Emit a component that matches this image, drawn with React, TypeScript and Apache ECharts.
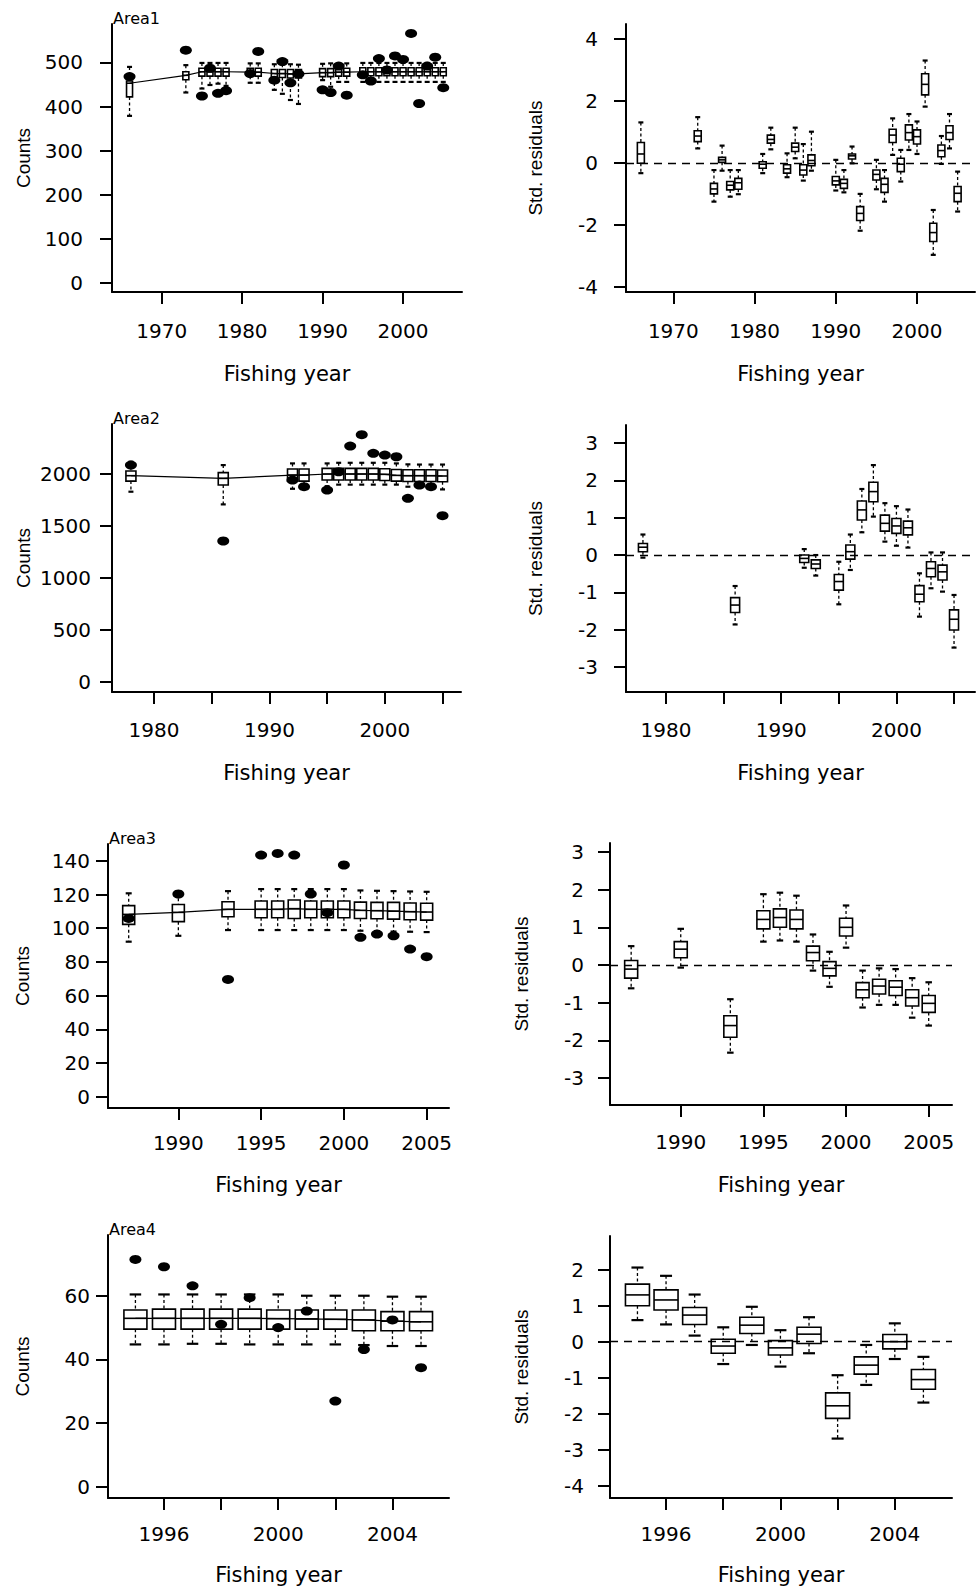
import React, { useEffect, useRef } from "react";
import * as echarts from "echarts";

type Box = [number, number, number, number, number]; // [lowWhisker, Q1, median, Q3, highWhisker]

// ---------------- DATA ----------------
const area1Years = [1966, 1973, 1975, 1976, 1977, 1978, 1981, 1982, 1984, 1985, 1986, 1987, 1990, 1991, 1992, 1993, 1995, 1996, 1997, 1998, 1999, 2000, 2001, 2002, 2003, 2004, 2005];
const area1Observed = [468, 528, 424, 487, 430, 436, 475, 525, 460, 502, 454, 474, 438, 432, 492, 426, 472, 458, 509, 483, 515, 507, 566, 407, 492, 512, 443];
const area1Predicted: Box[] = [
  [379, 422, 453, 458, 490], [432, 461, 471, 479, 494], [441, 469, 479, 487, 499], [449, 469, 479, 487, 499],
  [452, 469, 479, 487, 499], [447, 469, 479, 487, 499], [454, 469, 478, 487, 498], [454, 469, 478, 487, 498],
  [438, 466, 475, 484, 496], [429, 466, 475, 484, 496], [415, 465, 474, 484, 496], [406, 465, 474, 484, 495],
  [460, 468, 477, 486, 497], [445, 468, 477, 486, 498], [456, 469, 478, 487, 498], [456, 469, 478, 487, 498],
  [456, 470, 479, 488, 499], [456, 470, 479, 488, 499], [456, 470, 479, 488, 499], [456, 470, 479, 488, 499],
  [456, 470, 479, 488, 499], [456, 470, 479, 488, 499], [456, 470, 479, 488, 499], [456, 470, 479, 488, 499],
  [456, 470, 479, 488, 499], [456, 470, 479, 488, 499], [456, 470, 479, 488, 499],
];
const area1Residuals: Box[] = [
  [-0.33, -0.01, 0.29, 0.66, 1.31], [0.47, 0.69, 0.87, 1.04, 1.48], [-1.25, -1.0, -0.84, -0.66, -0.23],
  [-0.25, 0.02, 0.1, 0.18, 0.56], [-1.09, -0.87, -0.72, -0.6, -0.23], [-1.01, -0.85, -0.64, -0.5, -0.23],
  [-0.33, -0.17, -0.04, 0.04, 0.29], [0.44, 0.64, 0.76, 0.9, 1.14], [-0.46, -0.33, -0.19, -0.06, 0.31],
  [0.15, 0.37, 0.51, 0.64, 1.14], [-0.57, -0.39, -0.23, -0.06, 0.61], [-0.25, -0.09, 0.08, 0.26, 1.01],
  [-0.89, -0.71, -0.58, -0.44, 0.1], [-0.95, -0.82, -0.66, -0.53, -0.23], [-0.01, 0.13, 0.23, 0.29, 0.53],
  [-2.19, -1.86, -1.63, -1.41, -1.0], [-0.85, -0.55, -0.37, -0.23, 0.1], [-1.25, -0.95, -0.69, -0.5, -0.23],
  [0.26, 0.66, 0.9, 1.09, 1.44], [-0.6, -0.28, -0.04, 0.15, 0.42], [0.42, 0.74, 0.98, 1.23, 1.58],
  [0.29, 0.61, 0.85, 1.07, 1.34], [1.82, 2.2, 2.54, 2.88, 3.31], [-2.97, -2.54, -2.25, -1.95, -1.52],
  [-0.03, 0.2, 0.4, 0.58, 0.87], [0.47, 0.76, 0.98, 1.2, 1.58], [-1.57, -1.25, -0.98, -0.76, -0.28],
];

const area2Years = [1978, 1986, 1992, 1993, 1995, 1996, 1997, 1998, 1999, 2000, 2001, 2002, 2003, 2004, 2005];
const area2Observed = [2083, 1353, 1939, 1875, 1843, 2019, 2266, 2375, 2196, 2179, 2163, 1763, 1891, 1875, 1596];
const area2Predicted: Box[] = [
  [1827, 1929, 1981, 2026, 2115], [1705, 1891, 1955, 2010, 2083], [1855, 1929, 1987, 2045, 2099],
  [1862, 1929, 1987, 2045, 2099], [1880, 1939, 1997, 2051, 2099], [1895, 1939, 1997, 2051, 2105],
  [1895, 1939, 1997, 2051, 2105], [1895, 1939, 1997, 2051, 2105], [1895, 1939, 1997, 2051, 2105],
  [1895, 1935, 1994, 2048, 2105], [1895, 1929, 1984, 2040, 2099], [1875, 1925, 1981, 2038, 2090],
  [1880, 1925, 1981, 2038, 2088], [1875, 1925, 1981, 2038, 2088], [1849, 1922, 1978, 2035, 2088],
];
const area2Residuals: Box[] = [
  [-0.07, 0.09, 0.21, 0.31, 0.55], [-1.86, -1.54, -1.34, -1.14, -0.83], [-0.34, -0.2, -0.09, 0.0, 0.16],
  [-0.55, -0.36, -0.24, -0.13, 0.0], [-1.32, -0.94, -0.71, -0.52, -0.18], [-0.4, -0.11, 0.09, 0.27, 0.55],
  [0.61, 0.94, 1.21, 1.45, 1.77], [1.03, 1.43, 1.7, 1.95, 2.41], [0.36, 0.64, 0.85, 1.07, 1.39],
  [0.25, 0.58, 0.78, 0.98, 1.31], [0.2, 0.54, 0.73, 0.91, 1.22], [-1.65, -1.25, -1.05, -0.82, -0.49],
  [-0.89, -0.58, -0.36, -0.18, 0.07], [-0.98, -0.67, -0.45, -0.27, 0.07], [-2.48, -2.01, -1.72, -1.47, -1.07],
];

const area3Years = [1987, 1990, 1993, 1995, 1996, 1997, 1998, 1999, 2000, 2001, 2002, 2003, 2004, 2005];
const area3Observed = [105.8, 120.3, 69.6, 143.4, 144.4, 143.4, 120.3, 109.2, 137.5, 94.6, 96.5, 95.5, 87.6, 83.1];
const area3Predicted: Box[] = [
  [92.0, 102.3, 108.2, 113.4, 120.7], [95.5, 103.9, 109.4, 114.1, 121.0], [98.9, 106.8, 111.2, 115.7, 122.0],
  [98.9, 106.2, 111.2, 116.1, 123.2], [98.9, 106.2, 111.2, 116.1, 123.2], [98.9, 105.8, 111.6, 116.7, 123.2],
  [98.9, 106.2, 111.2, 116.1, 123.2], [98.9, 106.2, 111.2, 116.1, 123.2], [98.9, 106.2, 111.2, 116.1, 123.2],
  [98.5, 105.8, 110.6, 115.5, 122.4], [98.3, 105.6, 110.4, 115.3, 122.2], [98.0, 105.4, 110.1, 115.3, 122.0],
  [97.9, 105.0, 109.8, 115.0, 121.8], [97.7, 104.8, 109.6, 114.8, 121.6],
];
const area3Residuals: Box[] = [
  [-0.62, -0.35, -0.11, 0.12, 0.5], [-0.07, 0.19, 0.42, 0.62, 0.96], [-2.33, -1.92, -1.61, -1.35, -0.91],
  [0.62, 0.96, 1.21, 1.44, 1.88], [0.65, 1.0, 1.26, 1.49, 1.92], [0.62, 0.96, 1.21, 1.46, 1.84],
  [-0.15, 0.11, 0.33, 0.5, 0.81], [-0.58, -0.29, -0.09, 0.09, 0.35], [0.46, 0.77, 1.0, 1.24, 1.58],
  [-1.13, -0.87, -0.66, -0.47, -0.15], [-1.06, -0.77, -0.56, -0.38, -0.09], [-1.06, -0.81, -0.59, -0.42, -0.11],
  [-1.4, -1.09, -0.87, -0.66, -0.35], [-1.61, -1.26, -1.02, -0.81, -0.46],
];

const area4Years = [1995, 1996, 1997, 1998, 1999, 2000, 2001, 2002, 2003, 2004, 2005];
const area4Observed = [71.4, 69.1, 63.1, 51.0, 59.4, 50.0, 55.2, 26.9, 43.1, 52.4, 37.4];
const area4Predicted: Box[] = [
  [44.7, 49.5, 52.9, 55.5, 60.4], [44.7, 49.5, 52.9, 55.8, 60.4], [44.9, 49.5, 52.9, 55.8, 60.4],
  [44.9, 49.5, 52.9, 55.8, 60.4], [44.7, 49.5, 52.9, 55.8, 60.4], [44.7, 49.5, 52.8, 55.5, 60.4],
  [44.7, 49.5, 52.7, 55.5, 60.0], [44.7, 49.5, 52.6, 55.5, 60.0], [44.5, 49.0, 52.4, 55.5, 60.0],
  [44.2, 49.0, 52.0, 55.0, 59.7], [44.2, 49.0, 51.8, 55.0, 59.7],
];
const area4Residuals: Box[] = [
  [0.6, 1.0, 1.3, 1.6, 2.06], [0.48, 0.88, 1.16, 1.44, 1.83], [0.17, 0.48, 0.74, 0.95, 1.31],
  [-0.62, -0.32, -0.12, 0.07, 0.4], [-0.09, 0.23, 0.46, 0.68, 0.97], [-0.69, -0.37, -0.17, 0.03, 0.32],
  [-0.32, -0.05, 0.21, 0.4, 0.68], [-2.69, -2.13, -1.78, -1.42, -0.93], [-1.2, -0.9, -0.65, -0.42, -0.09],
  [-0.48, -0.2, 0.0, 0.2, 0.51], [-1.69, -1.32, -1.05, -0.77, -0.42],
];

// tick values
const area1YearTicks = [1970, 1980, 1990, 2000];
const area1YearLabels = [1970, 1980, 1990, 2000];
const area2YearTicks = [1980, 1985, 1990, 1995, 2000, 2005];
const area2YearLabels = [1980, 1990, 2000];
const area3YearTicks = [1990, 1995, 2000, 2005];
const area3YearLabels = [1990, 1995, 2000, 2005];
const area4YearTicks = [1996, 1998, 2000, 2002, 2004];
const area4YearLabels = [1996, 2000, 2004];
const area1CountTicks = [0, 100, 200, 300, 400, 500];
const area2CountTicks = [0, 500, 1000, 1500, 2000];
const area3CountTicks = [0, 20, 40, 60, 80, 100, 120, 140];
const area4CountTicks = [0, 20, 40, 60];
const area1ResTicks = [-4, -2, 0, 2, 4];
const area2ResTicks = [-3, -2, -1, 0, 1, 2, 3];
const area3ResTicks = [-3, -2, -1, 0, 1, 2, 3];
const area4ResTicks = [-4, -3, -2, -1, 0, 1, 2];

const areaNames = ["Area1", "Area2", "Area3", "Area4"];

// ---------------- LAYOUT ----------------
interface Panel {
  kind: "fit" | "res";
  area: number;
  left: number; top: number; width: number; height: number;
  xMin: number; xMax: number; yMin: number; yMax: number;
  xTicks: number[]; xLabels: number[]; yTicks: number[];
  yLabelMargin: number; xLabelMargin: number; xNameGap: number; yNameGap: number;
  boxW: number;
}

const panels: Panel[] = [
  { kind: "fit", area: 0, left: 112, top: 24, width: 350, height: 268, xMin: 1963.82, xMax: 2007.33, yMin: -20.4, yMax: 587.3, xTicks: area1YearTicks, xLabels: area1YearLabels, yTicks: area1CountTicks, yLabelMargin: 29, xLabelMargin: 29, xNameGap: 71, yNameGap: 79, boxW: 6 },
  { kind: "res", area: 0, left: 626, top: 24, width: 349, height: 268, xMin: 1964.17, xMax: 2007.14, yMin: -4.17, yMax: 4.49, xTicks: area1YearTicks, xLabels: area1YearLabels, yTicks: area1ResTicks, yLabelMargin: 28, xLabelMargin: 29, xNameGap: 71, yNameGap: 81, boxW: 7 },
  { kind: "fit", area: 1, left: 112, top: 424, width: 349, height: 268, xMin: 1976.36, xMax: 2006.6, yMin: -99, yMax: 2478, xTicks: area2YearTicks, xLabels: area2YearLabels, yTicks: area2CountTicks, yLabelMargin: 21, xLabelMargin: 28, xNameGap: 70, yNameGap: 79, boxW: 10 },
  { kind: "res", area: 1, left: 626, top: 425, width: 349, height: 267, xMin: 1976.53, xMax: 2006.82, yMin: -3.67, yMax: 3.485, xTicks: area2YearTicks, xLabels: area2YearLabels, yTicks: area2ResTicks, yLabelMargin: 28, xLabelMargin: 28, xNameGap: 70, yNameGap: 81, boxW: 9 },
  { kind: "fit", area: 2, left: 108, top: 844, width: 341, height: 264, xMin: 1985.75, xMax: 2006.35, yMin: -6.7, yMax: 149.97, xTicks: area3YearTicks, xLabels: area3YearLabels, yTicks: area3CountTicks, yLabelMargin: 18, xLabelMargin: 25, xNameGap: 66, yNameGap: 76, boxW: 12 },
  { kind: "res", area: 2, left: 610, top: 843, width: 342, height: 262, xMin: 1985.72, xMax: 2006.41, yMin: -3.72, yMax: 3.24, xTicks: area3YearTicks, xLabels: area3YearLabels, yTicks: area3ResTicks, yLabelMargin: 26, xLabelMargin: 27, xNameGap: 69, yNameGap: 79, boxW: 13 },
  { kind: "fit", area: 3, left: 108, top: 1235, width: 341, height: 263, xMin: 1994.04, xMax: 2005.98, yMin: -3.55, yMax: 79.08, xTicks: area4YearTicks, xLabels: area4YearLabels, yTicks: area4CountTicks, yLabelMargin: 18, xLabelMargin: 26, xNameGap: 66, yNameGap: 76, boxW: 23 },
  { kind: "res", area: 3, left: 610, top: 1236, width: 342, height: 262, xMin: 1994.04, xMax: 2006.0, yMin: -4.34, yMax: 2.936, xTicks: area4YearTicks, xLabels: area4YearLabels, yTicks: area4ResTicks, yLabelMargin: 26, xLabelMargin: 26, xNameGap: 66, yNameGap: 79, boxW: 24 },
];

const areaData = [
  { years: area1Years, obs: area1Observed, fit: area1Predicted, res: area1Residuals },
  { years: area2Years, obs: area2Observed, fit: area2Predicted, res: area2Residuals },
  { years: area3Years, obs: area3Observed, fit: area3Predicted, res: area3Residuals },
  { years: area4Years, obs: area4Observed, fit: area4Predicted, res: area4Residuals },
];

const TICK_FONT = "DejaVu Sans";

function makeBoxRenderer(boxW: number) {
  return (_params: any, api: any) => {
    const x = api.value(0);
    const lo = api.coord([x, api.value(1)]);
    const q1 = api.coord([x, api.value(2)]);
    const md = api.coord([x, api.value(3)]);
    const q3 = api.coord([x, api.value(4)]);
    const hi = api.coord([x, api.value(5)]);
    const cx = lo[0];
    const hw = boxW / 2;
    const cw = Math.max(2.5, boxW / 4);
    const solid = { stroke: "#000", lineWidth: 1.6, fill: "none" };
    const cap = { stroke: "#000", lineWidth: 2.2, fill: "none" };
    const dashed = { stroke: "#000", lineWidth: 1.3, lineDash: [3, 2.5], fill: "none" };
    return {
      type: "group",
      children: [
        { type: "line", shape: { x1: cx, y1: hi[1], x2: cx, y2: q3[1] }, style: dashed },
        { type: "line", shape: { x1: cx, y1: q1[1], x2: cx, y2: lo[1] }, style: dashed },
        { type: "line", shape: { x1: cx - cw, y1: hi[1], x2: cx + cw, y2: hi[1] }, style: cap },
        { type: "line", shape: { x1: cx - cw, y1: lo[1], x2: cx + cw, y2: lo[1] }, style: cap },
        { type: "rect", shape: { x: cx - hw, y: q3[1], width: boxW, height: q1[1] - q3[1] }, style: solid },
        { type: "line", shape: { x1: cx - hw, y1: md[1], x2: cx + hw, y2: md[1] }, style: solid },
      ],
    };
  };
}

function buildOption() {
  const grid: any[] = [];
  const xAxis: any[] = [];
  const yAxis: any[] = [];
  const series: any[] = [];
  const graphic: any[] = [];
  const axisLineStyle = { color: "#000", width: 2 };

  panels.forEach((p, i) => {
    const d = areaData[p.area];
    grid.push({ left: p.left, top: p.top, width: p.width, height: p.height, containLabel: false });
    xAxis.push({
      type: "value", gridIndex: i, min: p.xMin, max: p.xMax,
      axisLine: { show: true, onZero: false, lineStyle: axisLineStyle },
      axisTick: { show: true, length: 12, customValues: p.xTicks, lineStyle: axisLineStyle },
      axisLabel: { show: true, customValues: p.xLabels, margin: p.xLabelMargin, formatter: (v: number) => String(v), color: "#000", fontFamily: TICK_FONT, fontSize: 20 },
      splitLine: { show: false },
      name: "Fishing year", nameLocation: "middle", nameGap: p.xNameGap,
      nameTextStyle: { color: "#000", fontFamily: TICK_FONT, fontSize: 21 },
    });
    yAxis.push({
      type: "value", gridIndex: i, min: p.yMin, max: p.yMax,
      axisLine: { show: true, onZero: false, lineStyle: axisLineStyle },
      axisTick: { show: true, length: 12, customValues: p.yTicks, lineStyle: axisLineStyle },
      axisLabel: { show: true, customValues: p.yTicks, margin: p.yLabelMargin, formatter: (v: number) => String(v), color: "#000", fontFamily: TICK_FONT, fontSize: 20, padding: [5, 0, 0, 0] },
      splitLine: { show: false },
      name: p.kind === "fit" ? "Counts" : "Std. residuals", nameLocation: "middle", nameGap: p.yNameGap, nameRotate: 90,
      nameTextStyle: { color: "#000", fontFamily: "Liberation Sans", fontSize: 19 },
    });

    const boxes = p.kind === "fit" ? d.fit : d.res;
    const boxSeries: any = {
      type: "custom", xAxisIndex: i, yAxisIndex: i,
      renderItem: makeBoxRenderer(p.boxW),
      encode: { x: 0, y: [1, 2, 3, 4, 5] },
      data: d.years.map((yr, k) => [yr, ...boxes[k]]),
      z: 2,
    };
    if (p.kind === "res") {
      boxSeries.markLine = {
        silent: true, symbol: ["none", "none"], label: { show: false },
        lineStyle: { color: "#000", type: [8, 6], width: 1.4, opacity: 1 },
        data: [{ yAxis: 0 }],
      };
    }
    series.push(boxSeries);

    if (p.kind === "fit") {
      series.push({
        type: "line", xAxisIndex: i, yAxisIndex: i, symbol: "none",
        lineStyle: { color: "#000", width: 1.2 },
        data: d.years.map((yr, k) => [yr, d.fit[k][2]]), z: 3,
      });
      series.push({
        type: "scatter", xAxisIndex: i, yAxisIndex: i, symbol: "circle", symbolSize: [12, 9],
        itemStyle: { color: "#000", opacity: 1 },
        data: d.years.map((yr, k) => [yr, d.obs[k]]), z: 4,
      });
      graphic.push({
        type: "text", x: p.left + 1, y: p.top + 2.5,
        style: { text: areaNames[p.area], fontFamily: TICK_FONT, fontSize: 16, fill: "#000", align: "left", verticalAlign: "bottom" },
      });
    }
  });

  return { animation: false, backgroundColor: "#fff", grid, xAxis, yAxis, series, graphic };
}

export default function App() {
  const ref = useRef<HTMLDivElement>(null);
  useEffect(() => {
    document.body.style.margin = "0";
    if (!ref.current) return;
    const chart = echarts.init(ref.current, undefined, { renderer: "svg" });
    chart.setOption(buildOption() as any);
    return () => chart.dispose();
  }, []);
  return <div ref={ref} style={{ width: 978, height: 1596, background: "#fff" }} />;
}
